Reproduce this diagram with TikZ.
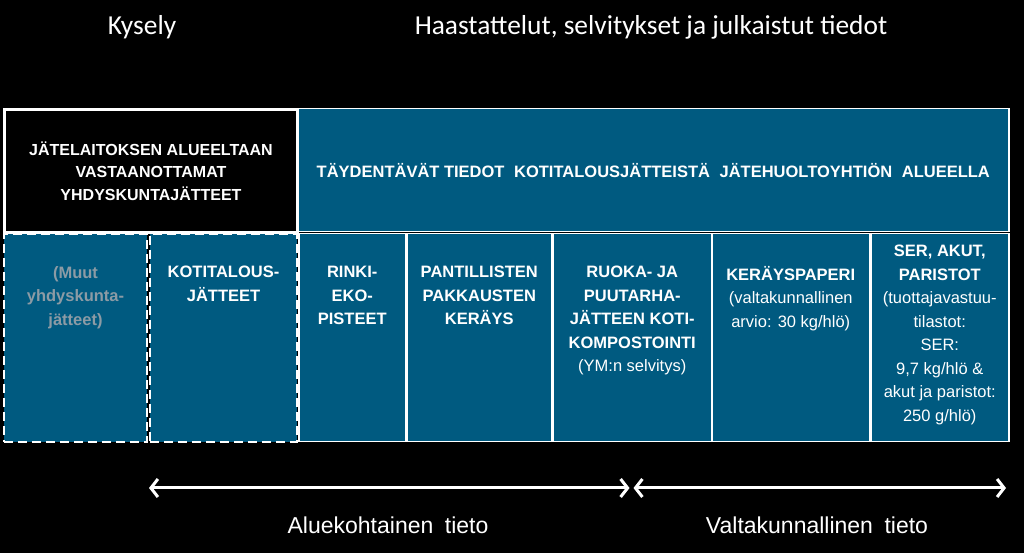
\documentclass[tikz,border=0pt]{standalone}
\usepackage{fontspec}
\setmainfont{Liberation Sans}
\newfontfamily\otsikkofont{Carlito}
\usetikzlibrary{positioning,arrows.meta}
\definecolor{jblue}{RGB}{0,90,128}
\definecolor{jgray}{RGB}{140,155,165}
\begin{document}
\begin{tikzpicture}[x=1pt,y=1pt,
	lohko/.style={draw=white,fill=jblue,line width=1.5pt,anchor=north west,inner sep=0pt,minimum height=208pt,text=white,align=center,font=\fontsize{16}{22.5}\selectfont\bfseries},
	teksti/.style={text=white,align=center,inner sep=0pt,font=\fontsize{16.5}{23.5}\selectfont\bfseries,execute at begin node=\strut},
	nuoli/.style={white,line width=3pt,line cap=round,{Straight Barb[length=7pt,width=18pt]}-{Straight Barb[length=7pt,width=18pt]}},
	otsikko/.style={text=white,font=\otsikkofont\fontsize{27.4}{32}\selectfont},
	alaotsikko/.style={text=white,font=\fontsize{23}{27}\selectfont}]
			\fill[black] (0,0) rectangle (1024,553);
			\useasboundingbox (0,0) rectangle (1024,553);
			\node[otsikko] (kysely) at (142,526) {Kysely};
			\node[otsikko] (haast) at (651,526) {Haastattelut, selvitykset ja julkaistut tiedot};
			% ylarivi
			\node[lohko,fill=black,line width=3pt,minimum width=293pt,minimum height=123pt] (laitos) at (3,445) {JÄTELAITOKSEN ALUEELTAAN\\VASTAANOTTAMAT\\YHDYSKUNTAJÄTTEET};
			\node[lohko,minimum width=711pt,minimum height=123pt,font=\fontsize{16.5}{20}\selectfont\bfseries] (taydent) at (297,445) {TÄYDENTÄVÄT TIEDOT\hspace{5pt} KOTITALOUSJÄTTEISTÄ\hspace{5pt} JÄTEHUOLTOYHTIÖN\hspace{5pt} ALUEELLA};
			% alarivi
			\node[lohko,dashed,dash pattern=on 9pt off 5pt,line width=2pt,minimum width=143pt] (muut) at (3,320) {};
			\node[lohko,dashed,dash pattern=on 9pt off 5pt,line width=2pt,minimum width=147pt] (koti) at (149,320) {};
			\foreach \nimi/\a/\b in {rinki/298/405,pantti/406/551,ruoka/552/711,paperi/711/869,ser/870/1008}
				\node[lohko,minimum width=\b-\a] (\nimi) at (\a,320) {};
			\node[teksti,text=jgray,below=33pt of muut.north] (muut-t) {(Muut\\yhdyskunta-\\jätteet)};
			\node[teksti,below=33pt of koti.north] (koti-t) {KOTITALOUS-\\JÄTTEET};
			\node[teksti,below=33pt of rinki.north] (rinki-t) {RINKI-\\EKO-\\PISTEET};
			\node[teksti,below=33pt of pantti.north] (pantti-t) {PANTILLISTEN\\PAKKAUSTEN\\KERÄYS};
			\node[teksti,below=33pt of ruoka.north] (ruoka-t) {RUOKA- JA\\PUUTARHA-\\JÄTTEEN KOTI-\\KOMPOSTOINTI\\\mdseries (YM:n selvitys)};
			\node[teksti,below=33pt of paperi.north] (paperi-t) {KERÄYSPAPERI\\\mdseries (valtakunnallinen\\\mdseries arvio: 30 kg/hlö)};
			\node[teksti,below=12pt of ser.north] (ser-t) {SER, AKUT,\\PARISTOT\\\mdseries (tuottajavastuu-\\\mdseries tilastot:\\\mdseries SER:\\\mdseries 9,7 kg/hlö \&\\\mdseries akut ja paristot:\\\mdseries 250 g/hlö)};
			% nuolet
			\coordinate (vasen) at (149,65);
			\coordinate (keskiv) at (629.5,65);
			\coordinate (keskio) at (633.5,65);
			\coordinate (oikea) at (1006,65);
			\draw[nuoli] (vasen) -- (keskiv);
			\draw[nuoli] (keskio) -- (oikea);
			\node[alaotsikko] (alue) at (388,28) {Aluekohtainen\hspace{0.5em}tieto};
			\node[alaotsikko] (valta) at (817,28) {Valtakunnallinen\hspace{0.5em}tieto};
	\end{tikzpicture}
\end{document}
